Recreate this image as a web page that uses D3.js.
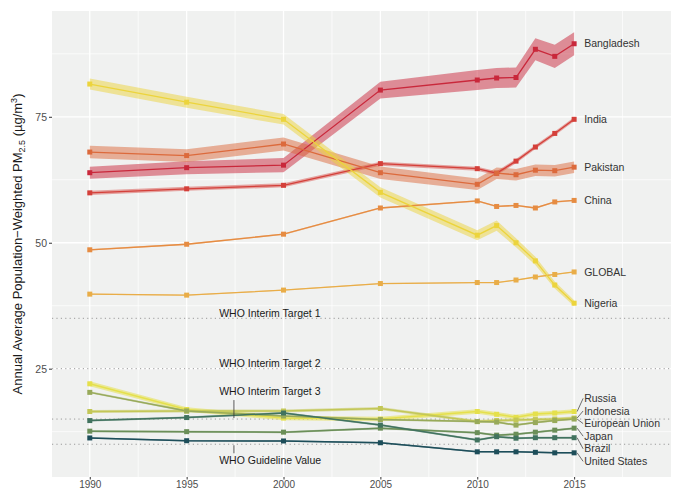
<!DOCTYPE html>
<html>
<head>
<meta charset="utf-8">
<script src="https://cdn.jsdelivr.net/npm/d3@7"></script>
<style>
  html, body { margin: 0; padding: 0; background: #ffffff; }
  svg { display: block; font-family: "Liberation Sans", Arial, Helvetica, sans-serif; }
</style>
</head>
<body>
<svg id="chart" width="675" height="489"></svg>
<script>
// ---------------- DATA ----------------
const years = [1990, 1995, 2000, 2005, 2010, 2011, 2012, 2013, 2014, 2015];

const bangladesh    = [63.9, 64.9, 65.4, 80.3, 82.3, 82.7, 82.8, 88.4, 87.0, 89.5];
const bangladeshErr = [1.2, 1.3, 1.4, 1.65, 2.0, 2.0, 2.0, 2.2, 2.3, 2.3];
const india         = [59.9, 60.7, 61.4, 65.7, 64.7, 63.8, 66.2, 69.0, 71.7, 74.5];
const indiaErr      = [0.4, 0.4, 0.4, 0.4, 0.4, 0.4, 0.4, 0.4, 0.4, 0.4];
const pakistan      = [68.0, 67.3, 69.6, 63.9, 61.6, 63.8, 63.5, 64.4, 64.3, 65.0];
const pakistanErr   = [1.25, 1.25, 1.3, 1.25, 1.15, 1.15, 1.15, 1.15, 1.15, 1.15];
const china         = [48.6, 49.7, 51.7, 56.9, 58.3, 57.2, 57.4, 56.9, 58.1, 58.4];
const chinaErr      = [0.15, 0.15, 0.15, 0.15, 0.15, 0.15, 0.15, 0.15, 0.15, 0.15];
const globalAvg     = [39.8, 39.6, 40.6, 41.9, 42.1, 42.1, 42.6, 43.2, 43.7, 44.2];
const globalErr     = [0.1, 0.1, 0.1, 0.1, 0.1, 0.1, 0.1, 0.1, 0.1, 0.1];
const nigeria       = [81.5, 77.9, 74.5, 60.0, 51.5, 53.4, 50.0, 46.4, 41.6, 38.0];
const nigeriaErr    = [1.1, 1.1, 1.05, 1.0, 1.0, 1.0, 0.9, 0.8, 0.7, 0.6];
const russia        = [22.0, 16.9, 15.2, 15.0, 16.5, 15.95, 15.35, 16.0, 16.2, 16.5];
const russiaErr     = [0.5, 0.45, 0.45, 0.45, 0.45, 0.45, 0.45, 0.45, 0.45, 0.45];
const indonesia     = [16.5, 16.6, 16.6, 17.1, 14.5, 14.7, 14.8, 14.9, 15.0, 15.2];
const indonesiaErr  = [0.3, 0.3, 0.3, 0.3, 0.3, 0.3, 0.3, 0.3, 0.3, 0.3];
const eu            = [20.3, 16.6, 15.6, 14.9, 14.5, 14.4, 13.8, 14.3, 14.7, 15.0];
const euErr         = [0.2, 0.2, 0.2, 0.2, 0.2, 0.2, 0.2, 0.2, 0.2, 0.2];
const japan         = [12.6, 12.5, 12.4, 13.2, 12.3, 11.8, 12.0, 12.4, 12.8, 13.2];
const japanErr      = [0.2, 0.2, 0.2, 0.2, 0.2, 0.2, 0.2, 0.2, 0.2, 0.2];
const brazil        = [14.7, 15.3, 16.2, 13.8, 10.85, 11.5, 11.2, 11.3, 11.3, 11.3];
const brazilErr     = [0.2, 0.2, 0.2, 0.2, 0.2, 0.2, 0.2, 0.2, 0.2, 0.2];
const unitedStates  = [11.25, 10.7, 10.65, 10.3, 8.5, 8.5, 8.5, 8.4, 8.3, 8.3];
const unitedStatesErr = [0.15, 0.15, 0.15, 0.15, 0.15, 0.15, 0.15, 0.15, 0.15, 0.15];

const yTicks = [25, 50, 75];
const yMinor = [12.5, 37.5, 62.5, 87.5];
const xTicks = [1990, 1995, 2000, 2005, 2010, 2015];
const xMinor = [1992.5, 1997.5, 2002.5, 2007.5, 2012.5, 2017.5];

const whoValues = [35, 25, 15, 10];
const whoLabels = ["WHO Interim Target 1", "WHO Interim Target 2", "WHO Interim Target 3", "WHO Guideline Value"];

// series table (name, values, band, colour, group)
const series = [
  { name: "Bangladesh",     values: bangladesh,   err: bangladeshErr,   color: "#c9283b", bandOp: 0.5,  group: "top" },
  { name: "India",          values: india,        err: indiaErr,        color: "#d4403a", bandOp: 0.45, group: "top" },
  { name: "Pakistan",       values: pakistan,     err: pakistanErr,     color: "#dc6a3c", bandOp: 0.5,  group: "top" },
  { name: "China",          values: china,        err: chinaErr,        color: "#e68c42", bandOp: 0.45, group: "top" },
  { name: "GLOBAL",         values: globalAvg,    err: globalErr,       color: "#e9ad48", bandOp: 0.45, group: "top" },
  { name: "Nigeria",        values: nigeria,      err: nigeriaErr,      color: "#ecd43c", bandOp: 0.5,  group: "top" },
  { name: "Russia",         values: russia,       err: russiaErr,       color: "#e5e04c", bandOp: 0.55, group: "bottom" },
  { name: "Indonesia",      values: indonesia,    err: indonesiaErr,    color: "#c3c757", bandOp: 0.5,  group: "bottom" },
  { name: "European Union", values: eu,           err: euErr,           color: "#98aa5a", bandOp: 0.5,  group: "bottom" },
  { name: "Japan",          values: japan,        err: japanErr,        color: "#6b8f58", bandOp: 0.5,  group: "bottom" },
  { name: "Brazil",         values: brazil,       err: brazilErr,       color: "#41735f", bandOp: 0.5,  group: "bottom" },
  { name: "United States",  values: unitedStates, err: unitedStatesErr, color: "#1d4e5a", bandOp: 0.5,  group: "bottom" }
];

// ---------------- LAYOUT ----------------
const svg = d3.select("#chart");
const panel = { left: 52, right: 671, top: 11, bottom: 477 };

const x = d3.scaleLinear().domain([1988.05, 2020.0]).range([panel.left, panel.right]);
const y = d3.scaleLinear().domain([3.5, 96]).range([panel.bottom, panel.top]);

// panel background
svg.append("rect")
  .attr("x", panel.left).attr("y", panel.top)
  .attr("width", panel.right - panel.left).attr("height", panel.bottom - panel.top)
  .attr("fill", "#f0f1f0");

const grid = svg.append("g");
grid.selectAll(".ymin").data(yMinor).enter().append("line")
  .attr("x1", panel.left).attr("x2", panel.right)
  .attr("y1", d => y(d)).attr("y2", d => y(d))
  .attr("stroke", "#ffffff").attr("stroke-width", 0.7);
grid.selectAll(".xmin").data(xMinor).enter().append("line")
  .attr("y1", panel.top).attr("y2", panel.bottom)
  .attr("x1", d => x(d)).attr("x2", d => x(d))
  .attr("stroke", "#ffffff").attr("stroke-width", 0.7);
grid.selectAll(".ymaj").data(yTicks).enter().append("line")
  .attr("x1", panel.left).attr("x2", panel.right)
  .attr("y1", d => y(d)).attr("y2", d => y(d))
  .attr("stroke", "#ffffff").attr("stroke-width", 1.3);
grid.selectAll(".xmaj").data(xTicks).enter().append("line")
  .attr("y1", panel.top).attr("y2", panel.bottom)
  .attr("x1", d => x(d)).attr("x2", d => x(d))
  .attr("stroke", "#ffffff").attr("stroke-width", 1.3);

// WHO reference lines
svg.append("g").selectAll("line").data(whoValues).enter().append("line")
  .attr("x1", panel.left).attr("x2", panel.right)
  .attr("y1", d => y(d)).attr("y2", d => y(d))
  .attr("stroke", "#9a9a9a").attr("stroke-width", 1)
  .attr("stroke-dasharray", "1.2,3.2");

// axes
const yAxis = d3.axisLeft(y).tickValues(yTicks).tickSize(3).tickPadding(2);
const gy = svg.append("g").attr("transform", `translate(${panel.left},0)`).call(yAxis);
gy.select(".domain").remove();
gy.selectAll(".tick line").attr("stroke", "#333");
gy.selectAll(".tick text").attr("fill", "#4d4d4d").style("font-size", "10.5px");

const xAxis = d3.axisBottom(x).tickValues(xTicks).tickFormat(d3.format("d")).tickSize(2.5).tickPadding(1);
const gx = svg.append("g").attr("transform", `translate(0,${panel.bottom})`).call(xAxis);
gx.select(".domain").remove();
gx.selectAll(".tick line").attr("stroke", "#333");
gx.selectAll(".tick text").attr("fill", "#4d4d4d").style("font-size", "10px");

// y-axis title
const title = svg.append("text")
  .attr("transform", `translate(22,${(panel.top + panel.bottom) / 2}) rotate(-90)`)
  .attr("text-anchor", "middle")
  .attr("fill", "#1a1a1a")
  .style("font-size", "13px");
title.append("tspan").text("Annual Average Population\u2212Weighted PM");
title.append("tspan").attr("dy", 3).style("font-size", "9px").text("2.5");
title.append("tspan").attr("dy", -3).text(" (\u00b5g/m");
title.append("tspan").attr("dy", -5).style("font-size", "9px").text("3");
title.append("tspan").attr("dy", 5).text(")");

// marks
const pts = s => years.map((yr, i) => ({ yr, v: s.values[i], e: s.err[i] }));
const area = d3.area().x(d => x(d.yr)).y0(d => y(d.v - d.e)).y1(d => y(d.v + d.e));
const line = d3.line().x(d => x(d.yr)).y(d => y(d.v));

const bands = svg.append("g");
series.forEach(s => {
  bands.append("path").datum(pts(s)).attr("d", area)
    .attr("fill", s.color).attr("fill-opacity", s.bandOp).attr("stroke", "none");
});
const lines = svg.append("g");
series.forEach(s => {
  lines.append("path").datum(pts(s)).attr("d", line)
    .attr("fill", "none").attr("stroke", s.color)
    .attr("stroke-width", s.group === "bottom" ? 1.5 : 1.3);
});
const points = svg.append("g");
const ps = 5;
series.forEach(s => {
  points.selectAll(null).data(pts(s)).enter().append("rect")
    .attr("x", d => x(d.yr) - ps / 2).attr("y", d => y(d.v) - ps / 2)
    .attr("width", ps).attr("height", ps)
    .attr("fill", s.color);
});

// WHO labels
const whoG = svg.append("g").style("font-size", "10.5px").attr("fill", "#1a1a1a");
const whoX = x(1996.68);
whoLabels.forEach((lab, i) => {
  let ty;
  if (i === 0 || i === 1) ty = y(whoValues[i]) - 5;
  else if (i === 2) ty = y(whoValues[i]) - 28;
  else ty = y(whoValues[i]) + 16;
  whoG.append("text").attr("x", whoX).attr("y", ty).attr("dy", "0.35em").text(lab);
});
const tickX = x(1997.44);
svg.append("line").attr("x1", tickX).attr("x2", tickX)
  .attr("y1", y(whoValues[2]) - 19).attr("y2", y(whoValues[2]) - 1)
  .attr("stroke", "#333").attr("stroke-width", 0.8);
svg.append("line").attr("x1", tickX).attr("x2", tickX)
  .attr("y1", y(whoValues[3]) + 1).attr("y2", y(whoValues[3]) + 9)
  .attr("stroke", "#333").attr("stroke-width", 0.8);

// country labels
const last = years.length - 1;
const labelX = x(years[last]) + 10;
const labG = svg.append("g").style("font-size", "10.5px").attr("fill", "#333");
series.filter(s => s.group === "top").forEach(s => {
  labG.append("text").attr("x", labelX).attr("y", y(s.values[last])).attr("dy", "0.35em").text(s.name);
});
// repelled stack for the low group
const low = series.filter(s => s.group === "bottom")
  .map(s => ({ s, py: y(s.values[last]) }))
  .sort((a, b) => a.py - b.py);
const gap = 12.6;
const meanPy = d3.mean(low, d => d.py) + 2;
low.forEach((d, i) => { d.ly = meanPy + (i - (low.length - 1) / 2) * gap; });
low.forEach(d => {
  svg.append("line")
    .attr("x1", x(years[last]) + 3).attr("y1", d.py)
    .attr("x2", labelX - 1).attr("y2", d.ly)
    .attr("stroke", "#333").attr("stroke-width", 0.7);
  labG.append("text").attr("x", labelX).attr("y", d.ly).attr("dy", "0.35em").text(d.s.name);
});
</script>
</body>
</html>
